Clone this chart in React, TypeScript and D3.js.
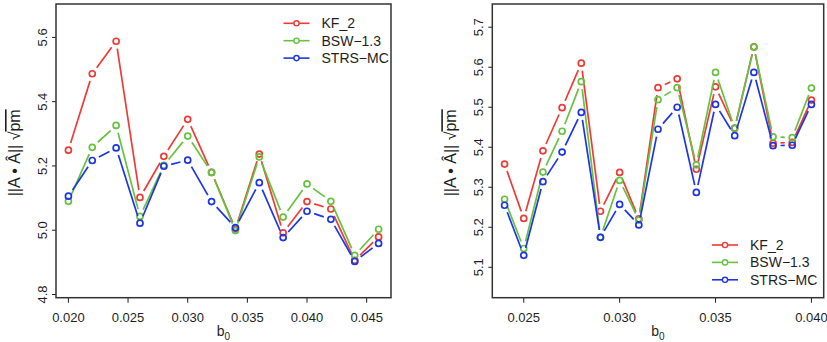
import React, { useEffect, useRef } from 'react';
import * as d3 from 'd3';

// left panel
const bLeft = [0.020, 0.022, 0.024, 0.026, 0.028, 0.030, 0.032, 0.034, 0.036, 0.038, 0.040, 0.042, 0.044, 0.046];
const kfLeft = [5.249, 5.487, 5.588, 5.102, 5.230, 5.345, 5.180, 5.004, 5.237, 4.992, 5.089, 5.066, 4.906, 4.979];
const bswLeft = [5.090, 5.258, 5.326, 5.043, 5.202, 5.293, 5.180, 4.999, 5.228, 5.041, 5.144, 5.090, 4.922, 5.003];
const strsLeft = [5.106, 5.217, 5.256, 5.022, 5.199, 5.218, 5.089, 5.008, 5.148, 4.977, 5.059, 5.034, 4.903, 4.959];
const xTicksLeft = [0.020, 0.025, 0.030, 0.035, 0.040, 0.045];
const yTicksLeft = [4.8, 5.0, 5.2, 5.4, 5.6];

// right panel
const bRight = [0.024, 0.025, 0.026, 0.027, 0.028, 0.029, 0.030, 0.031, 0.032, 0.033, 0.034, 0.035, 0.036, 0.037, 0.038, 0.039, 0.040];
const kfRight = [5.358, 5.222, 5.391, 5.499, 5.610, 5.240, 5.337, 5.221, 5.549, 5.571, 5.345, 5.551, 5.448, 5.651, 5.410, 5.412, 5.518];
const bswRight = [5.270, 5.147, 5.338, 5.440, 5.564, 5.175, 5.317, 5.218, 5.519, 5.549, 5.356, 5.587, 5.447, 5.650, 5.426, 5.424, 5.548];
const strsRight = [5.255, 5.130, 5.314, 5.388, 5.487, 5.175, 5.257, 5.206, 5.445, 5.500, 5.287, 5.507, 5.429, 5.587, 5.404, 5.405, 5.507];
const xTicksRight = [0.025, 0.030, 0.035, 0.040];
const yTicksRight = [5.1, 5.2, 5.3, 5.4, 5.5, 5.6, 5.7];

const seriesNames = ['KF_2', 'BSW\u22121.3', 'STRS\u2212MC'];
const colors = ['#ee3b36', '#66c23f', '#1d35e6'];

interface PanelOpts {
  x0: number; x1: number; y0: number; y1: number;
  xDomain: [number, number]; yDomain: [number, number];
  xs: number[]; series: number[][];
  xTicks: number[]; yTicks: number[]; yFmt: string;
  legendX: number; legendY: number;
}

const App: React.FC = () => {
  const svgRef = useRef<SVGSVGElement>(null);

  useEffect(() => {
    if (!svgRef.current) return;
    const svg = d3.select(svgRef.current);
    svg.selectAll('*').remove();

    const drawPanel = (o: PanelOpts) => {
      const x = d3.scaleLinear().domain(o.xDomain).range([o.x0, o.x1]);
      const y = d3.scaleLinear().domain(o.yDomain).range([o.y1, o.y0]);
      const g = svg.append('g');
      const ink = '#1e1e1e';

      // x ticks
      o.xTicks.forEach(t => {
        g.append('line')
          .attr('x1', x(t)).attr('x2', x(t))
          .attr('y1', o.y1).attr('y2', o.y1 + 5)
          .attr('stroke', ink).attr('stroke-width', 1);
        g.append('text')
          .attr('x', x(t)).attr('y', o.y1 + 24)
          .attr('text-anchor', 'middle')
          .attr('font-size', 13)
          .attr('fill', ink)
          .text(d3.format('.3f')(t));
      });

      // y ticks
      o.yTicks.forEach(t => {
        g.append('line')
          .attr('x1', o.x0 - 4).attr('x2', o.x0)
          .attr('y1', y(t)).attr('y2', y(t))
          .attr('stroke', ink).attr('stroke-width', 1);
        g.append('text')
          .attr('transform', `translate(${o.x0 - 9},${y(t)}) rotate(-90)`)
          .attr('text-anchor', 'middle')
          .attr('font-size', 13)
          .attr('fill', ink)
          .text(d3.format(o.yFmt)(t));
      });

      // axis titles
      const xt = g.append('text')
        .attr('x', (o.x0 + o.x1) / 2)
        .attr('y', o.y1 + 38)
        .attr('text-anchor', 'middle')
        .attr('font-size', 14)
        .attr('fill', ink);
      xt.append('tspan').text('b');
      xt.append('tspan').attr('font-size', 10).attr('dy', 4).text('0');

      const yt = g.append('text')
        .attr('transform', `translate(${o.x0 - 36},${(o.y0 + o.y1) / 2 + 2}) rotate(-90)`)
        .attr('text-anchor', 'middle')
        .attr('font-size', 16)
        .attr('fill', ink);
      yt.append('tspan').text('||A \u2022 \u00c2|| \u221a');
      yt.append('tspan').attr('text-decoration', 'overline').text('pm');

      // series: points joined by gapped segments (type = "b")
      const gap = 7.5;
      o.series.forEach((vals, si) => {
        const pts = vals.map((v, i) => [x(o.xs[i]), y(v)] as [number, number]);
        for (let i = 0; i < pts.length - 1; i++) {
          const [ax, ay] = pts[i];
          const [bx, by] = pts[i + 1];
          const len = Math.hypot(bx - ax, by - ay);
          if (len <= 2 * gap) continue;
          const ux = (bx - ax) / len;
          const uy = (by - ay) / len;
          g.append('line')
            .attr('x1', ax + ux * gap).attr('y1', ay + uy * gap)
            .attr('x2', bx - ux * gap).attr('y2', by - uy * gap)
            .attr('stroke', colors[si])
            .attr('stroke-width', 1.7);
        }
        g.selectAll(null)
          .data(pts)
          .enter()
          .append('circle')
          .attr('cx', d => d[0])
          .attr('cy', d => d[1])
          .attr('r', 3)
          .attr('fill', 'none')
          .attr('stroke', colors[si])
          .attr('stroke-width', 1.7);
      });

      // box
      g.append('rect')
        .attr('x', o.x0).attr('y', o.y0)
        .attr('width', o.x1 - o.x0).attr('height', o.y1 - o.y0)
        .attr('fill', 'none')
        .attr('stroke', '#333')
        .attr('stroke-width', 1.5);

      // legend
      seriesNames.forEach((name, i) => {
        const ly = o.legendY + i * 17.4;
        g.append('line')
          .attr('x1', o.legendX).attr('x2', o.legendX + 26)
          .attr('y1', ly).attr('y2', ly)
          .attr('stroke', colors[i]).attr('stroke-width', 1.6);
        g.append('circle')
          .attr('cx', o.legendX + 13).attr('cy', ly).attr('r', 2.6)
          .attr('fill', '#fff')
          .attr('stroke', colors[i]).attr('stroke-width', 1.4);
        g.append('text')
          .attr('x', o.legendX + 38).attr('y', ly + 5)
          .attr('font-size', 14)
          .attr('fill', ink)
          .text(name);
      });
    };

    drawPanel({
      x0: 56, x1: 391, y0: 4, y1: 297.7,
      xDomain: [0.01896, 0.04704], yDomain: [4.79, 5.704],
      xs: bLeft, series: [kfLeft, bswLeft, strsLeft],
      xTicks: xTicksLeft, yTicks: yTicksLeft, yFmt: '.1f',
      legendX: 283.5, legendY: 23.3,
    });

    drawPanel({
      x0: 492.3, x1: 823.7, y0: 4, y1: 297.7,
      xDomain: [0.02336, 0.04064], yDomain: [5.024, 5.758],
      xs: bRight, series: [kfRight, bswRight, strsRight],
      xTicks: xTicksRight, yTicks: yTicksRight, yFmt: '.1f',
      legendX: 712, legendY: 245,
    });
  }, []);

  return (
    <div style={{ width: 827, height: 342 }}>
      <style>{'body{margin:0;} svg text{font-family:"Liberation Sans", Arial, sans-serif;}'}</style>
      <svg ref={svgRef} width={827} height={342} style={{ display: 'block', background: '#fff' }}></svg>
    </div>
  );
};

export default App;
